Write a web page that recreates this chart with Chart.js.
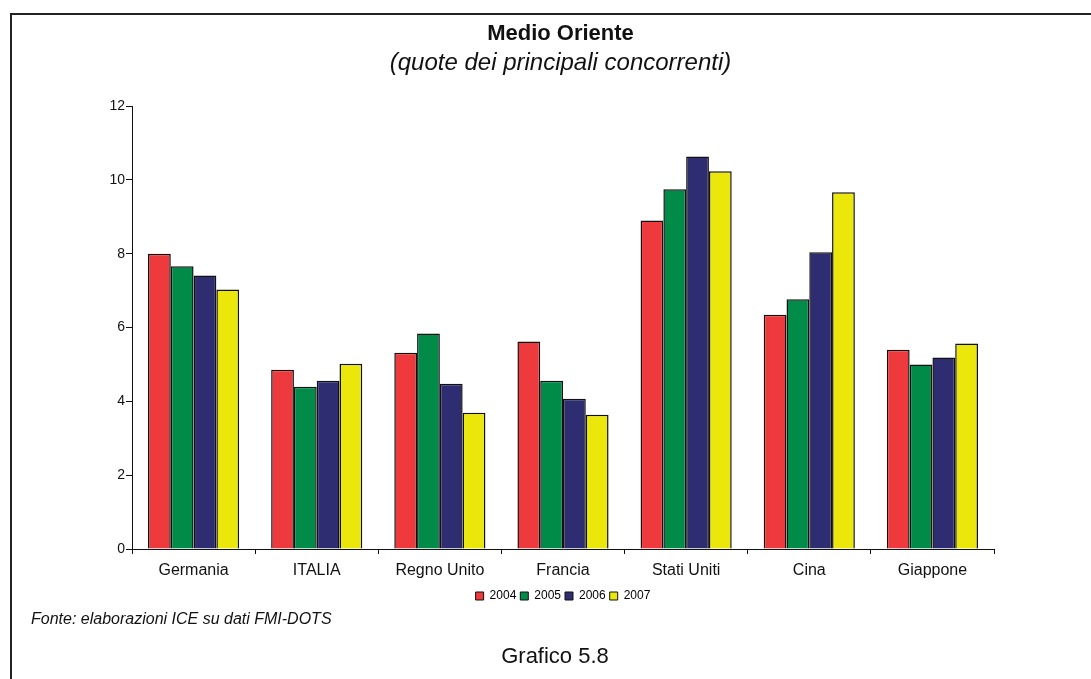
<!DOCTYPE html>
<html>
<head>
<meta charset="utf-8">
<script src="https://cdn.jsdelivr.net/npm/chart.js@4.4.1/dist/chart.umd.min.js"></script>
<style>
  html, body { margin:0; padding:0; background:#fff; }
  #wrap { position:relative; width:1091px; height:679px; overflow:hidden; }
  #frame { position:absolute; left:10px; top:13px; width:1200px; height:800px; border-left:2px solid #222; border-top:2px solid #222; }
  canvas { position:absolute; left:0; top:0; }
  .note { position:absolute; font-family:"Liberation Sans", Arial, sans-serif; color:#111; white-space:nowrap; }
  #fonte { left:31px; top:610px; font-size:16px; font-style:italic; }
  #graf { left:0; width:1110px; text-align:center; top:643px; font-size:22px; }
</style>
</head>
<body>
<div id="wrap">
  <div id="frame"></div>
  <canvas id="c" width="1091" height="679"></canvas>
  <div class="note" id="fonte">Fonte: elaborazioni ICE su dati FMI-DOTS</div>
  <div class="note" id="graf">Grafico 5.8</div>
</div>
<script>
const categories = ["Germania", "ITALIA", "Regno Unito", "Francia", "Stati Uniti", "Cina", "Giappone"];
const years = ["2004", "2005", "2006", "2007"];
const v2004 = [8.0, 4.86, 5.32, 5.62, 8.9, 6.35, 5.40];
const v2005 = [7.66, 4.40, 5.84, 4.56, 9.75, 6.77, 5.00];
const v2006 = [7.41, 4.56, 4.48, 4.07, 10.64, 8.04, 5.19];
const v2007 = [7.03, 5.02, 3.69, 3.64, 10.24, 9.67, 5.57];
const colors = ["#EF3A3D", "#008C48", "#2E2D72", "#ECE70B"];
const seriesValues = [v2004, v2005, v2006, v2007];

const FONT = "'Liberation Sans', Arial, sans-serif";
Chart.defaults.font.family = FONT;
Chart.defaults.color = "#111";

new Chart(document.getElementById("c"), {
  type: "bar",
  data: {
    labels: categories,
    datasets: years.map((y, i) => ({
      label: y,
      data: seriesValues[i],
      backgroundColor: colors[i],
      borderColor: "#111",
      borderWidth: 1.5,
      borderSkipped: "bottom",
      barPercentage: 1.0,
      categoryPercentage: 0.74,
      yAxisID: "y"
    }))
  },
  options: {
    responsive: false,
    animation: false,
    layout: { padding: { left: 30, right: 0, top: 0, bottom: 67 } },
    plugins: {
      title: {
        display: true,
        text: "Medio Oriente",
        font: { size: 22, weight: "bold", family: FONT, lineHeight: 1.2 },
        color: "#111",
        padding: { top: 21, bottom: 1 }
      },
      subtitle: {
        display: true,
        text: "(quote dei principali concorrenti)",
        font: { size: 24, style: "italic", family: FONT, lineHeight: 1.2 },
        color: "#111",
        padding: { top: 1, bottom: 28 }
      },
      legend: {
        position: "bottom",
        fullSize: false,
        labels: {
          boxWidth: 8, boxHeight: 8,
          font: { size: 12, family: FONT },
          color: "#111",
          padding: 4,
          generateLabels: (chart) => chart.data.datasets.map((d, i) => ({
            text: d.label, fillStyle: d.backgroundColor, strokeStyle: "#111",
            lineWidth: 1, datasetIndex: i, hidden: false
          }))
        }
      },
      tooltip: { enabled: false }
    },
    scales: {
      x: {
        grid: { drawOnChartArea: false, drawTicks: true, tickLength: 5, color: "#111", offset: true },
        border: { color: "#111", width: 1 },
        ticks: { font: { size: 16, family: FONT }, color: "#111", padding: 7, maxRotation: 0 },
        afterFit: (s) => { s.height = 37; }
      },
      y: {
        min: 0, max: 12,
        ticks: { stepSize: 2, font: { size: 14, family: FONT }, color: "#111", padding: 1 },
        grid: { drawOnChartArea: false, drawTicks: true, tickLength: 6, color: "#111" },
        border: { color: "#111", width: 1 },
        afterFit: (s) => { s.width = 102; }
      },
      yRight: {
        position: "right",
        min: 0, max: 12,
        display: true,
        ticks: { display: false },
        grid: { display: false, drawTicks: false },
        border: { display: false },
        afterFit: (s) => { s.width = 97; }
      }
    }
  }
});
</script>
</body>
</html>
